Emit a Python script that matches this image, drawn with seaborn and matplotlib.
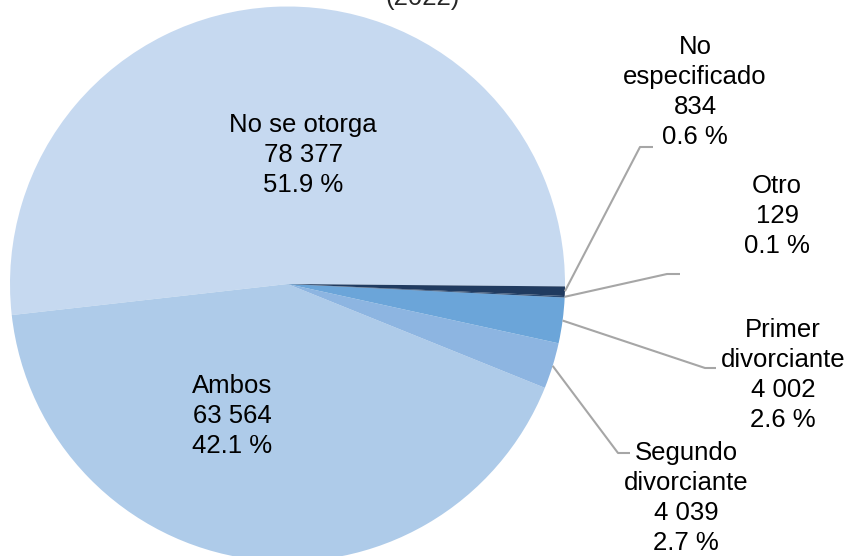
import numpy as np
import seaborn as sns
import matplotlib.pyplot as plt


# data
CATEGORIES = ["No se otorga", "Ambos", "Segundo\ndivorciante",
              "Primer\ndivorciante", "Otro", "No\nespecificado"]
COUNTS = [78377, 63564, 4039, 4002, 129, 834]
PERCENTS = ["51.9", "42.1", "2.7", "2.6", "0.1", "0.6"]
TITLE = "(2022)"

COLORS = ["#C6D9F0", "#AECBE9", "#8DB5E1", "#6BA5D9", "#2A4A72", "#203B60"]

# layout in pixels (figure is 852 x 556)
W, H = 852, 556
CENTER = (287.5, 284)
RADIUS = 277.5
LABEL_POS = {
    "No se otorga": (303, 155),
    "Ambos": (232, 416),
    "Segundo\ndivorciante": (686, 498),
    "Primer\ndivorciante": (783, 375),
    "Otro": (777, 216),
    "No\nespecificado": (695, 92),
}
# elbow and end of each leader line (outside labels only)
LEADERS = {
    "Segundo\ndivorciante": [(618, 453), (630, 453)],
    "Primer\ndivorciante": [(705, 368), (716, 368)],
    "Otro": [(667, 274), (680, 274)],
    "No\nespecificado": [(640, 147), (653, 147)],
}
FONT_SIZE = 18.5
LINE_COLOR = "#A6A6A6"


def to_data(x, y):
    return x, H - y


def fmt_count(n):
    return f"{n:,}".replace(",", " ")


def main():
    sns.set_theme(style="white")
    plt.rcParams["font.family"] = ["Liberation Sans", "DejaVu Sans"]

    fig = plt.figure(figsize=(W / 100, H / 100), dpi=100)
    ax = fig.add_axes([0, 0, 1, 1])

    cx, cy = to_data(*CENTER)
    wedges, _ = ax.pie(
        COUNTS,
        colors=COLORS,
        startangle=-0.5,
        counterclock=True,
        center=(cx, cy),
        radius=RADIUS,
        wedgeprops=dict(linewidth=0),
    )
    ax.set_xlim(0, W)
    ax.set_ylim(0, H)
    ax.axis("off")

    for wedge, name, count, pct in zip(wedges, CATEGORIES, COUNTS, PERCENTS):
        lx, ly = to_data(*LABEL_POS[name])
        ax.text(lx, ly, f"{name}\n{fmt_count(count)}\n{pct} %",
                ha="center", va="center", fontsize=FONT_SIZE,
                linespacing=1.3, color="black")
        if name in LEADERS:
            mid = np.deg2rad((wedge.theta1 + wedge.theta2) / 2)
            start = (cx + RADIUS * np.cos(mid), cy + RADIUS * np.sin(mid))
            pts = [start] + [to_data(*p) for p in LEADERS[name]]
            xs, ys = zip(*pts)
            ax.plot(xs, ys, color=LINE_COLOR, linewidth=1.5,
                    solid_capstyle="butt")

    tx, ty = to_data(423, 5.5)
    ax.text(tx, ty, TITLE, ha="center", va="baseline", fontsize=FONT_SIZE,
            clip_on=False)

    fig.savefig("out.png", dpi=100)
    plt.close(fig)


if __name__ == "__main__":
    main()
